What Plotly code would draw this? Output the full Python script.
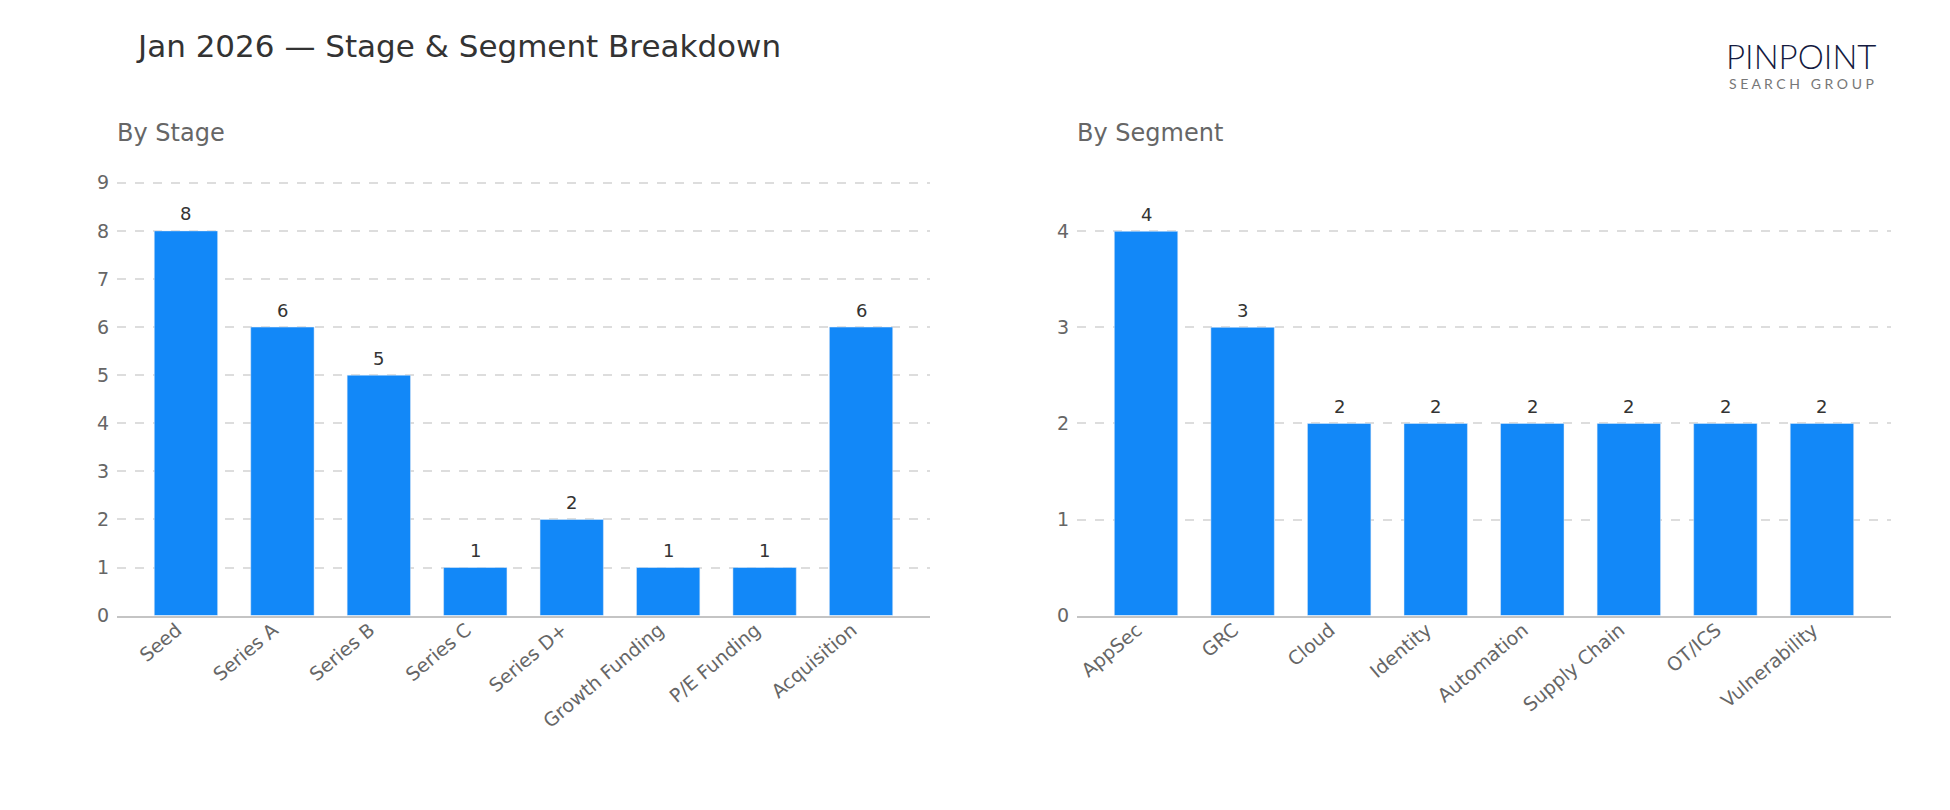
import plotly.graph_objects as go

stages = ["Seed", "Series A", "Series B", "Series C", "Series D+", "Growth Funding", "P/E Funding", "Acquisition"]
stage_counts = [8, 6, 5, 1, 2, 1, 1, 6]
segments = ["AppSec", "GRC", "Cloud", "Identity", "Automation", "Supply Chain", "OT/ICS", "Vulnerability"]
segment_counts = [4, 3, 2, 2, 2, 2, 2, 2]

BAR = "#1288f8"
FONT = "DejaVu Sans, Verdana, sans-serif"

fig = go.Figure()
fig.add_trace(go.Bar(x=stages, y=stage_counts, marker_color=BAR,
                     xaxis="x", yaxis="y", hoverinfo="x+y"))
fig.add_trace(go.Bar(x=segments, y=segment_counts, marker_color=BAR,
                     xaxis="x2", yaxis="y2", hoverinfo="x+y"))

# value labels above the bars, placed through the axes
annots = []
for cats, vals, xr, yr in [(stages, stage_counts, "x", "y"), (segments, segment_counts, "x2", "y2")]:
    for c, v in zip(cats, vals):
        annots.append(dict(x=c, y=v, xref=xr, yref=yr, text=str(v), showarrow=False,
                           yanchor="middle", yshift=17,
                           font=dict(size=18, color="#333", family=FONT)))

bottom = 615.6
unit_left = (615.6 - 182.8) / 9
unit_right = (615.6 - 231.3) / 4
top_left = bottom - 9.1 * unit_left
top_right = bottom - 4.5 * unit_right

common_x = dict(showgrid=False, showline=True, linecolor="#c4c4c4", linewidth=2,
                tickangle=-40, tickfont=dict(size=19, color="#666"), ticks="",
                ticklabelshift=-9, ticklabelstandoff=-6,
                zeroline=False, automargin=False, range=[-0.715, 7.715])
common_y = dict(showgrid=True, gridcolor="#dddddd", griddash="dash", gridwidth=1.5,
                zeroline=False, showline=False, dtick=1, automargin=False,
                tickfont=dict(size=19, color="#666"), ticks="outside", ticklen=3,
                tickcolor="rgba(0,0,0,0)")

fig.update_layout(
    width=1950, height=810,
    margin=dict(l=0, r=0, t=0, b=0, autoexpand=False),
    paper_bgcolor="white", plot_bgcolor="white",
    font=dict(family=FONT, color="#666"),
    showlegend=False, bargap=0.343,
    xaxis=dict(domain=[117 / 1950, 930 / 1950], anchor="y", **common_x),
    yaxis=dict(domain=[1 - bottom / 810, 1 - top_left / 810], range=[0, 9.1], anchor="x", **common_y),
    xaxis2=dict(domain=[1077 / 1950, 1891 / 1950], anchor="y2", **common_x),
    yaxis2=dict(domain=[1 - bottom / 810, 1 - top_right / 810], range=[0, 4.5], anchor="x2", **common_y),
    annotations=annots + [
        dict(text="Jan 2026 — Stage & Segment Breakdown", x=134 / 1950, y=1 - 46 / 810,
             xref="paper", yref="paper", xanchor="left", yanchor="middle", showarrow=False,
             font=dict(size=31, color="#333", family=FONT)),
        dict(text="By Stage", x=115 / 1950, y=1 - 133 / 810, xref="paper", yref="paper",
             xanchor="left", yanchor="middle", showarrow=False,
             font=dict(size=24, color="#666", family=FONT)),
        dict(text="By Segment", x=1075 / 1950, y=1 - 133 / 810, xref="paper", yref="paper",
             xanchor="left", yanchor="middle", showarrow=False,
             font=dict(size=24, color="#666", family=FONT)),
        dict(text="PINPOINT", x=1801 / 1950, y=1 - 56 / 810, xref="paper", yref="paper",
             xanchor="center", yanchor="middle", showarrow=False,
             font=dict(size=33, color="#141a40", family="Lato, Inter, sans-serif", weight=300)),
        dict(text="S E A R C H   G R O U P", x=1801 / 1950, y=1 - 83 / 810, xref="paper", yref="paper",
             xanchor="center", yanchor="middle", showarrow=False,
             font=dict(size=14, color="#777", family="Lato, Inter, sans-serif")),
    ],
)

fig.write_html("out.html")
